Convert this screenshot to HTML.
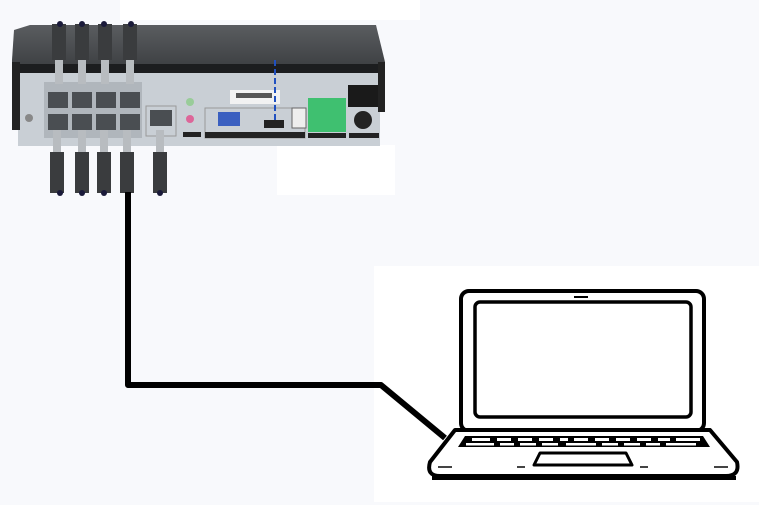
<!DOCTYPE html>
<html><head><style>
html,body{margin:0;padding:0;}
body{width:759px;height:505px;background:#f8f9fc;position:relative;overflow:hidden;font-family:"Liberation Sans",sans-serif;}
</style></head><body>
<svg width="759" height="505" viewBox="0 0 759 505" style="position:absolute;left:0;top:0">
<defs><linearGradient id="tg" x1="0" y1="0" x2="0" y2="1"><stop offset="0" stop-color="#5a5d60"/><stop offset="1" stop-color="#3a3c3f"/></linearGradient></defs>
<rect x="120" y="0" width="300" height="20" fill="#fff"/>
<rect x="277" y="145" width="118" height="50" fill="#fff"/>
<rect x="374" y="266" width="385" height="236" fill="#fff"/>
<!-- DVR -->
<polygon points="14,30 30,25 376,25 385,62 385,72 12,72 12,60" fill="url(#tg)"/>
<rect x="12" y="64" width="373" height="10" fill="#1c1d1f"/>
<rect x="18" y="73" width="362" height="73" fill="#c9cfd5"/>
<rect x="12" y="62" width="8" height="68" fill="#222"/>
<rect x="378" y="62" width="7" height="50" fill="#222"/>
<!-- ethernet block -->
<rect x="44" y="82" width="98" height="56" fill="#b0b6bc"/>
<g fill="#4a4e52">
<rect x="48" y="92" width="20" height="16"/><rect x="72" y="92" width="20" height="16"/><rect x="96" y="92" width="20" height="16"/><rect x="120" y="92" width="20" height="16"/>
<rect x="48" y="114" width="20" height="16"/><rect x="72" y="114" width="20" height="16"/><rect x="96" y="114" width="20" height="16"/><rect x="120" y="114" width="20" height="16"/>
<rect x="150" y="110" width="22" height="16"/>
</g>
<rect x="146" y="106" width="30" height="30" fill="none" stroke="#999" stroke-width="1"/>
<circle cx="29" cy="118" r="4" fill="#888"/>
<circle cx="190" cy="102" r="4" fill="#9c9"/><circle cx="190" cy="119" r="4" fill="#d69"/>
<rect x="183" y="132" width="18" height="5" fill="#222"/>
<rect x="205" y="108" width="100" height="30" fill="none" stroke="#999"/>
<rect x="205" y="132" width="100" height="6" fill="#222"/>
<rect x="218" y="112" width="22" height="14" fill="#3a5fc0"/>
<rect x="264" y="120" width="20" height="8" fill="#222"/>
<rect x="230" y="90" width="50" height="14" fill="#f2f2f2"/>
<rect x="236" y="93" width="36" height="5" fill="#555"/>
<rect x="292" y="108" width="14" height="20" fill="#eee" stroke="#666"/>
<rect x="308" y="98" width="38" height="34" fill="#3fc070"/>
<rect x="308" y="133" width="38" height="5" fill="#222"/>
<rect x="348" y="85" width="30" height="22" fill="#1a1a1a"/>
<circle cx="363" cy="120" r="9" fill="#222"/>
<rect x="349" y="133" width="30" height="5" fill="#222"/>
<line x1="275" y1="60" x2="275" y2="122" stroke="#2050c0" stroke-width="2" stroke-dasharray="6,3"/>
<!-- top connectors -->
<g fill="#3a3c3e">
<rect x="52" y="24" width="14" height="36"/><rect x="75" y="24" width="14" height="36"/><rect x="98" y="24" width="14" height="36"/><rect x="123" y="24" width="14" height="36"/>
</g>
<g fill="#b8bcc0">
<rect x="55" y="60" width="8" height="24"/><rect x="78" y="60" width="8" height="24"/><rect x="101" y="60" width="8" height="24"/><rect x="126" y="60" width="8" height="24"/>
</g>
<g fill="#1a1a3a"><circle cx="60" cy="24" r="3"/><circle cx="82" cy="24" r="3"/><circle cx="104" cy="24" r="3"/><circle cx="131" cy="24" r="3"/></g>
<!-- bottom connectors -->
<g fill="#b8bcc0">
<rect x="53" y="130" width="8" height="22"/><rect x="78" y="130" width="8" height="22"/><rect x="100" y="130" width="8" height="22"/><rect x="123" y="130" width="8" height="22"/><rect x="156" y="130" width="8" height="22"/>
</g>
<g fill="#3a3c3e">
<rect x="50" y="152" width="14" height="41"/><rect x="75" y="152" width="14" height="41"/><rect x="97" y="152" width="14" height="41"/><rect x="120" y="152" width="14" height="41"/><rect x="153" y="152" width="14" height="41"/>
</g>
<g fill="#1a1a3a"><circle cx="60" cy="193" r="3"/><circle cx="82" cy="193" r="3"/><circle cx="104" cy="193" r="3"/><circle cx="160" cy="193" r="3"/></g>
<!-- cable -->
<polyline points="128,192 128,385 381,385 445,438" fill="none" stroke="#000" stroke-width="6" stroke-linejoin="round"/>
<!-- laptop -->
<rect x="461" y="291" width="243" height="140" rx="8" fill="#fff" stroke="#000" stroke-width="4"/>
<rect x="475" y="302" width="216" height="115" rx="5" fill="#fff" stroke="#000" stroke-width="3.5"/>
<line x1="574" y1="297" x2="588" y2="297" stroke="#000" stroke-width="2"/>
<path d="M455,430 L710,430 L737,462 Q740,476 726,476 L440,476 Q426,476 430,462 Z" fill="#fff" stroke="#000" stroke-width="4" stroke-linejoin="round"/>
<line x1="432" y1="478" x2="736" y2="478" stroke="#000" stroke-width="4"/>
<path d="M465,436 L703,436 L710,447 L458,447 Z" fill="#000"/>
<g fill="#fff">
<rect x="472" y="438" width="18" height="3"/><rect x="497" y="438" width="14" height="3"/><rect x="518" y="438" width="14" height="3"/><rect x="539" y="438" width="14" height="3"/><rect x="560" y="438" width="8" height="3"/><rect x="574" y="438" width="14" height="3"/><rect x="595" y="438" width="14" height="3"/><rect x="616" y="438" width="14" height="3"/><rect x="637" y="438" width="14" height="3"/><rect x="658" y="438" width="12" height="3"/><rect x="676" y="438" width="24" height="3"/>
<rect x="466" y="443" width="28" height="2.5"/><rect x="500" y="443" width="14" height="2.5"/><rect x="520" y="443" width="16" height="2.5"/><rect x="542" y="443" width="16" height="2.5"/><rect x="566" y="443" width="30" height="2.5"/><rect x="602" y="443" width="16" height="2.5"/><rect x="624" y="443" width="16" height="2.5"/><rect x="646" y="443" width="14" height="2.5"/><rect x="666" y="443" width="30" height="2.5"/>
</g>
<path d="M540,453 L626,453 L632,465 L534,465 Z" fill="#fff" stroke="#000" stroke-width="3" stroke-linejoin="round"/>
<g stroke="#444" stroke-width="2"><line x1="438" y1="467" x2="452" y2="467"/><line x1="517" y1="467" x2="525" y2="467"/><line x1="640" y1="467" x2="648" y2="467"/><line x1="714" y1="467" x2="728" y2="467"/></g>
</svg>
</body></html>
